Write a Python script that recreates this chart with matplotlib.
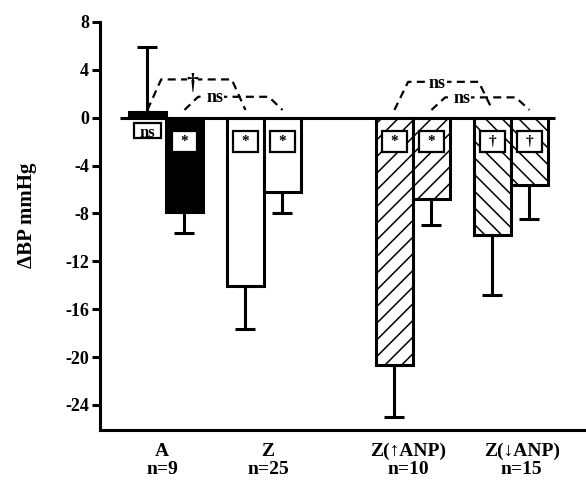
import matplotlib
matplotlib.use("Agg")
import matplotlib.pyplot as plt
from matplotlib.patches import Rectangle

plt.rcParams['hatch.linewidth'] = 1.1
SERIF = ['Liberation Serif', 'DejaVu Serif']

# ---- data ----
groups = ["A\nn=9", "Z\nn=25", "Z(\u2191ANP)\nn=10", "Z(\u2193ANP)\nn=15"]
values = [0.5, -7.9, -14.1, -6.2, -20.7, -6.8, -9.8, -5.6]
errors = [5.4, 1.7, 3.6, 1.8, 4.3, 2.2, 5.0, 2.9]
box_labels = ["ns", "*", "*", "*", "*", "*", "\u2020", "\u2020"]
yticks = [8, 4, 0, -4, -8, -12, -16, -20, -24]
# brackets: (left bar, right bar, height, label)
brackets = [(0, 2, 3.2, "\u2020"), (1, 3, 1.75, "ns"), (4, 6, 3.0, "ns"), (5, 7, 1.7, "ns")]

# ---- layout ----
group_pos = [0.0, 1.0, 2.52, 3.52]
label_shift = [-0.04, 0.04, -0.05, 0.11]
bar_w = 0.378
fills = ['black', 'black', 'white', 'white', 'white', 'white', 'white', 'white']
hatches = [None, None, None, None, '//', '//', '\\\\', '\\\\']
bracket_text_frac = [0.46, 0.31, 0.44, 0.31]

xs = []
for g in group_pos:
    xs += [g - bar_w / 2, g + bar_w / 2]

fig = plt.figure(figsize=(5.86, 4.8), dpi=100)
ax = fig.add_axes([100 / 586, 50 / 480, 486 / 586, 408 / 480])
ax.set_xlim(-0.673, 4.286)
ax.set_ylim(-26.1, 8)

LW = 2.2
for i, (x, v, e) in enumerate(zip(xs, values, errors)):
    ax.bar(x, v, width=bar_w, color=fills[i], edgecolor='black', linewidth=LW,
           hatch=hatches[i], zorder=3)
    if v >= 0:
        yerr = [[0], [e]]
    else:
        yerr = [[e], [0]]
    ax.errorbar(x, v, yerr=yerr, fmt='none', ecolor='black', elinewidth=LW,
                capsize=7.5, capthick=LW, zorder=2)

# zero line
ax.plot([-0.47, 3.97], [0, 0], color='black', lw=2.2, zorder=4, solid_capstyle='butt')

# boxes inside bars
bw, bh = 0.255, 1.76
for i, (x, lab) in enumerate(zip(xs, box_labels)):
    if i == 0:
        cy, h, bwi = -1.05, 1.3, 0.28
    else:
        cy, h, bwi = -1.95, bh, bw
    ax.add_patch(Rectangle((x - bwi / 2, cy - h / 2), bwi, h, facecolor='white',
                           edgecolor='black', linewidth=1.6, zorder=5))
    fs = 12 if lab == "ns" else 11
    ax.text(x, cy - (0.2 if lab == "ns" else 0.05), lab, ha='center', va='center',
            fontsize=fs, fontweight='bold', family=SERIF, zorder=6)

# brackets
leg_dx = 0.14
base = 0.65
for (l, r, h, lab), frac in zip(brackets, bracket_text_frac):
    x0, x1 = xs[l], xs[r]
    ax.plot([x0, x0 + leg_dx, x1 - leg_dx, x1], [base, h, h, base], color='black',
            lw=1.6, linestyle=(0, (3.6, 2.4)), zorder=4)
    tx = x0 + frac * (x1 - x0)
    if lab == 'ns':
        ax.text(tx, h - 0.1, lab, ha='center', va='center', fontsize=13,
                fontweight='bold', family=SERIF, zorder=6,
                bbox=dict(boxstyle='square,pad=0.05', fc='white', ec='none'))
    else:
        ax.text(tx, h - 0.3, lab, ha='center', va='center', fontsize=17,
                fontweight='bold', family=SERIF, zorder=6,
                bbox=dict(boxstyle='square,pad=0.0', fc='white', ec='none'))

# axes styling
for s in ['top', 'right']:
    ax.spines[s].set_visible(False)
ax.spines['left'].set_linewidth(2.2)
ax.spines['bottom'].set_linewidth(2.2)
ax.set_yticks(yticks)
ax.set_yticklabels([str(t) for t in yticks], fontsize=13, fontweight='bold', family=SERIF)
ax.tick_params(axis='y', direction='out', length=6, width=2.2, pad=2)
ax.set_xticks([g + s for g, s in zip(group_pos, label_shift)])
ax.set_xticklabels(groups, fontsize=14, fontweight='bold', family=SERIF, linespacing=1.08)
ax.tick_params(axis='x', length=0, pad=9)
ax.set_ylabel("\u0394BP mmHg", fontsize=15, fontweight='bold', family=SERIF)
ax.yaxis.set_label_coords(-0.13, 0.527)

fig.savefig("out.png", dpi=100)
